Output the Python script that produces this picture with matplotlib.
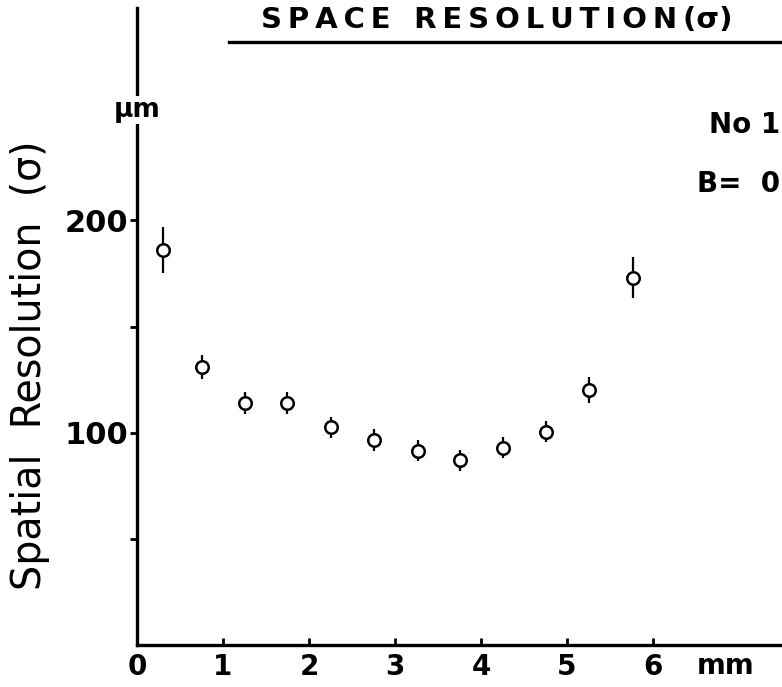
import matplotlib
matplotlib.use("Agg")
import matplotlib.pyplot as plt

# spatial resolution vs. distance from the wire
dist_mm = [0.30, 0.76, 1.25, 1.74, 2.25, 2.75, 3.27, 3.76, 4.26, 4.76, 5.25, 5.77]
sigma_um = [186, 131, 114, 114, 102.5, 96.5, 91.5, 87, 93, 100.5, 120, 173]
sigma_err = [11, 5.5, 5, 5, 5, 5, 5, 5, 5, 5, 6, 9.5]

xticks = [0, 1, 2, 3, 4, 5, 6]
yticks_major = [100, 200]
yticks_minor = [50, 150]

plt.rcParams['font.family'] = ['DejaVu Sans']

fig = plt.figure(figsize=(7.82, 6.87), dpi=100)
ax = fig.add_axes([137 / 782, 42 / 687, 645 / 782, 637 / 687])

ax.errorbar(dist_mm, sigma_um, yerr=sigma_err, fmt='o', ms=9, mfc='white',
            mec='black', mew=1.8, ecolor='black', elinewidth=1.6, capsize=0,
            zorder=3)

ax.set_xlim(0, 7.5)
ax.set_ylim(0, 300)

for s in ['top', 'right']:
    ax.spines[s].set_visible(False)
for s in ['left', 'bottom']:
    ax.spines[s].set_linewidth(2.4)

ax.set_xticks(xticks)
ax.set_xticklabels([str(t) for t in xticks], fontsize=20, fontweight='bold')
ax.set_yticks(yticks_major)
ax.set_yticklabels([str(t) for t in yticks_major], fontsize=22, fontweight='bold')
ax.set_yticks(yticks_minor, minor=True)
ax.tick_params(axis='x', direction='in', length=5, width=2, pad=6)
ax.tick_params(axis='y', which='both', direction='out', length=5, width=2, pad=1)

# axis title, placed by hand in the left margin
fig.text(30 / 782, 1 - 365 / 687, 'Spatial  Resolution  (σ)', fontsize=28.5,
         rotation=90, ha='center', va='center')

# units
ax.text(6.85, -9.8, 'mm', fontsize=20, fontweight='bold', ha='center', va='center')
ax.text(0, 252, 'μm', fontsize=19, fontweight='bold', ha='center', va='center',
        bbox=dict(fc='white', ec='none', pad=0.5))

# run info
ax.text(7.48, 245, 'No 1', fontsize=20, fontweight='bold', ha='right', va='center')
ax.text(7.48, 217, 'B=  0', fontsize=20, fontweight='bold', ha='right', va='center')

# heading with rule underneath
title = '\u2009'.join('SPACE') + '\u2009\u2009\u2009\u2009' + '\u2009'.join('RESOLUTION') + '\u2009(σ)'
fig.text(497 / 782, 1 - 20 / 687, title, fontsize=21, fontweight='bold',
         ha='center', va='center')
ax.plot([1.07, 7.5], [284, 284], color='black', lw=2.4, clip_on=False)

fig.savefig('out.png', dpi=100)
